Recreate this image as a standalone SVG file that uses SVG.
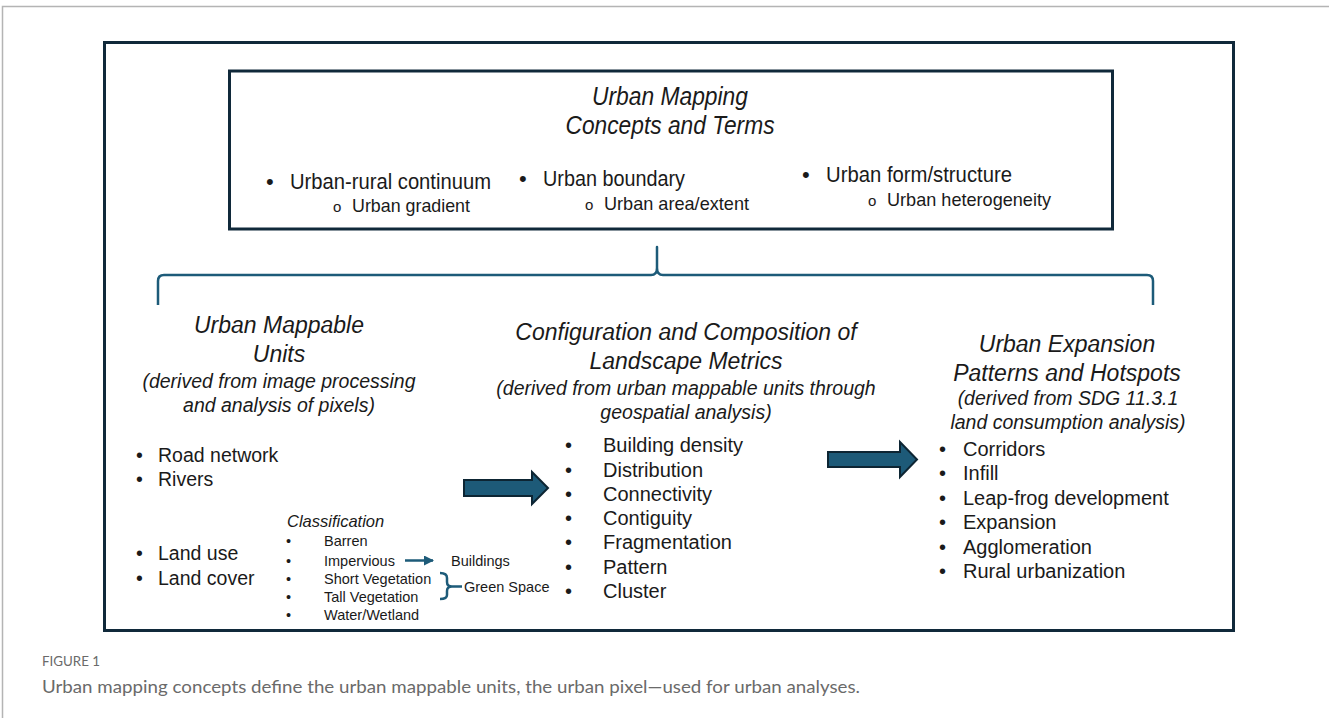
<svg xmlns="http://www.w3.org/2000/svg" width="1329" height="718" viewBox="0 0 1329 718">
  <defs>
    <style>
      .frame { fill: none; stroke: #b4b4b4; stroke-width: 1.5; }
      .box { fill: #ffffff; stroke: #10293a; stroke-width: 3; }
      .narrow { font-family: "Liberation Sans", Arial, sans-serif; fill: #1a1a1a; }
      .sans { font-family: "Liberation Sans", Arial, sans-serif; fill: #1a1a1a; }
      .title { font-size: 23px; font-style: italic; text-anchor: middle; }
      .sub { font-size: 19.5px; font-style: italic; text-anchor: middle; }
      .item { font-size: 20px; }
      .small { font-size: 14.5px; }
      .brace { fill: none; stroke: #1d5b79; stroke-width: 2.5; stroke-linejoin: round; }
      .blockArrow { fill: #1d5a78; stroke: #0d2533; stroke-width: 2; }
      .cap { font-family: Lato, "Open Sans", "Liberation Sans", sans-serif; fill: #6a6a6a; }
    </style>
    <marker id="tipSmall" viewBox="0 0 10 10" refX="9" refY="5" markerWidth="4.5" markerHeight="4" orient="auto">
      <path d="M0,0 L10,5 L0,10 z" fill="#1d5b79"/>
    </marker>
  </defs>

  <!-- page frame -->
  <path class="frame" d="M2.5,718 L2.5,6.5 L1329,6.5"/>

  <!-- outer container -->
  <rect id="container" class="box" x="104.5" y="42.5" width="1129" height="588"/>

  <!-- top concept box -->
  <g id="concepts">
    <rect class="box" x="229.5" y="71" width="883" height="158"/>
    <text class="narrow" x="670" y="105" font-size="25" font-style="italic" text-anchor="middle" textLength="156" lengthAdjust="spacingAndGlyphs">Urban Mapping</text>
    <text class="narrow" x="670" y="134" font-size="25" font-style="italic" text-anchor="middle" textLength="209" lengthAdjust="spacingAndGlyphs">Concepts and Terms</text>
    <g class="narrow" font-size="22">
      <text x="266" y="189">•</text>
      <text x="290" y="189" textLength="201" lengthAdjust="spacingAndGlyphs">Urban-rural continuum</text>
      <text x="333" y="212" font-size="15">o</text>
      <text x="352" y="212" font-size="19" textLength="118" lengthAdjust="spacingAndGlyphs">Urban gradient</text>
      <text x="519" y="186">•</text>
      <text x="543" y="186" textLength="142" lengthAdjust="spacingAndGlyphs">Urban boundary</text>
      <text x="585" y="210" font-size="15">o</text>
      <text x="604" y="210" font-size="19" textLength="145" lengthAdjust="spacingAndGlyphs">Urban area/extent</text>
      <text x="802" y="182">•</text>
      <text x="826" y="182" textLength="186" lengthAdjust="spacingAndGlyphs">Urban form/structure</text>
      <text x="868" y="206" font-size="15">o</text>
      <text x="887" y="206" font-size="19" textLength="164" lengthAdjust="spacingAndGlyphs">Urban heterogeneity</text>
    </g>
  </g>

  <!-- connectors -->
  <g id="connectors">
    <path class="brace" d="M158,305 L158,281 Q158,275 164,275 L651,275 Q657,275 657,268 L657,247 L657,268 Q657,275 663,275 L1147,275 Q1153,275 1153,281 L1153,305"/>
    <path class="blockArrow" d="M464,480 L532,480 L532,472 L548,488 L532,504 L532,496 L464,496 Z"/>
    <path class="blockArrow" d="M828,452 L900,452 L900,442 L917,459.5 L900,477 L900,467 L828,467 Z"/>
    <line x1="405" y1="560.5" x2="433" y2="560.5" stroke="#1d5b79" stroke-width="2.5" marker-end="url(#tipSmall)"/>
    <path class="brace" stroke-width="2.2" d="M440,573 Q447,573 447,578 L447,582 Q447,586.5 452,586.5 L462,586.5 M452,586.5 Q447,586.5 447,591 L447,595 Q447,599 440,599"/>
  </g>

  <!-- mappable units -->
  <g id="mappable-units">
    <text class="sans title" x="279" y="333">Urban Mappable</text>
    <text class="sans title" x="279" y="362">Units</text>
    <text class="sans sub" x="279" y="388">(derived from image processing</text>
    <text class="sans sub" x="279" y="412">and analysis of pixels)</text>
    <g class="sans" font-size="19.5">
      <text x="136" y="462">•</text><text x="158" y="462">Road network</text>
      <text x="136" y="486">•</text><text x="158" y="486">Rivers</text>
      <text x="136" y="560">•</text><text x="158" y="560">Land use</text>
      <text x="136" y="585">•</text><text x="158" y="585">Land cover</text>
    </g>
  </g>

  <!-- classification list -->
  <g id="classification" class="sans small">
    <text x="287" y="527" font-size="16.5" font-style="italic">Classification</text>
    <text x="286" y="546">•</text><text x="324" y="546">Barren</text>
    <text x="286" y="566">•</text><text x="324" y="566">Impervious</text>
    <text x="286" y="584">•</text><text x="324" y="584">Short Vegetation</text>
    <text x="286" y="602">•</text><text x="324" y="602">Tall Vegetation</text>
    <text x="286" y="620">•</text><text x="324" y="620">Water/Wetland</text>
  </g>
  <g id="buildings"><text class="sans small" x="451" y="566">Buildings</text></g>
  <g id="green-space"><text class="sans small" x="464" y="591.5">Green Space</text></g>

  <!-- landscape metrics -->
  <g id="landscape-metrics">
    <text class="sans title" x="686" y="340">Configuration and Composition of</text>
    <text class="sans title" x="686" y="369">Landscape Metrics</text>
    <text class="sans sub" x="686" y="395">(derived from urban mappable units through</text>
    <text class="sans sub" x="686" y="419">geospatial analysis)</text>
    <g class="sans item">
      <text x="565" y="452">•</text><text x="603" y="452">Building density</text>
      <text x="565" y="477">•</text><text x="603" y="477">Distribution</text>
      <text x="565" y="501">•</text><text x="603" y="501">Connectivity</text>
      <text x="565" y="525">•</text><text x="603" y="525">Contiguity</text>
      <text x="565" y="549">•</text><text x="603" y="549">Fragmentation</text>
      <text x="565" y="574">•</text><text x="603" y="574">Pattern</text>
      <text x="565" y="598">•</text><text x="603" y="598">Cluster</text>
    </g>
  </g>

  <!-- expansion patterns -->
  <g id="expansion-patterns">
    <text class="sans title" x="1067" y="352">Urban Expansion</text>
    <text class="sans title" x="1067" y="381">Patterns and Hotspots</text>
    <text class="sans sub" x="1068" y="405">(derived from SDG 11.3.1</text>
    <text class="sans sub" x="1068" y="429">land consumption analysis)</text>
    <g class="sans item">
      <text x="939" y="456">•</text><text x="963" y="456">Corridors</text>
      <text x="939" y="480">•</text><text x="963" y="480">Infill</text>
      <text x="939" y="505">•</text><text x="963" y="505">Leap-frog development</text>
      <text x="939" y="529">•</text><text x="963" y="529">Expansion</text>
      <text x="939" y="554">•</text><text x="963" y="554">Agglomeration</text>
      <text x="939" y="578">•</text><text x="963" y="578">Rural urbanization</text>
    </g>
  </g>

  <!-- caption -->
  <g id="caption">
    <text class="cap" x="42" y="666" font-size="14" textLength="58" lengthAdjust="spacingAndGlyphs">FIGURE 1</text>
    <text class="cap" x="42" y="693" font-size="18" textLength="818" lengthAdjust="spacingAndGlyphs">Urban mapping concepts define the urban mappable units, the urban pixel—used for urban analyses.</text>
  </g>
</svg>
